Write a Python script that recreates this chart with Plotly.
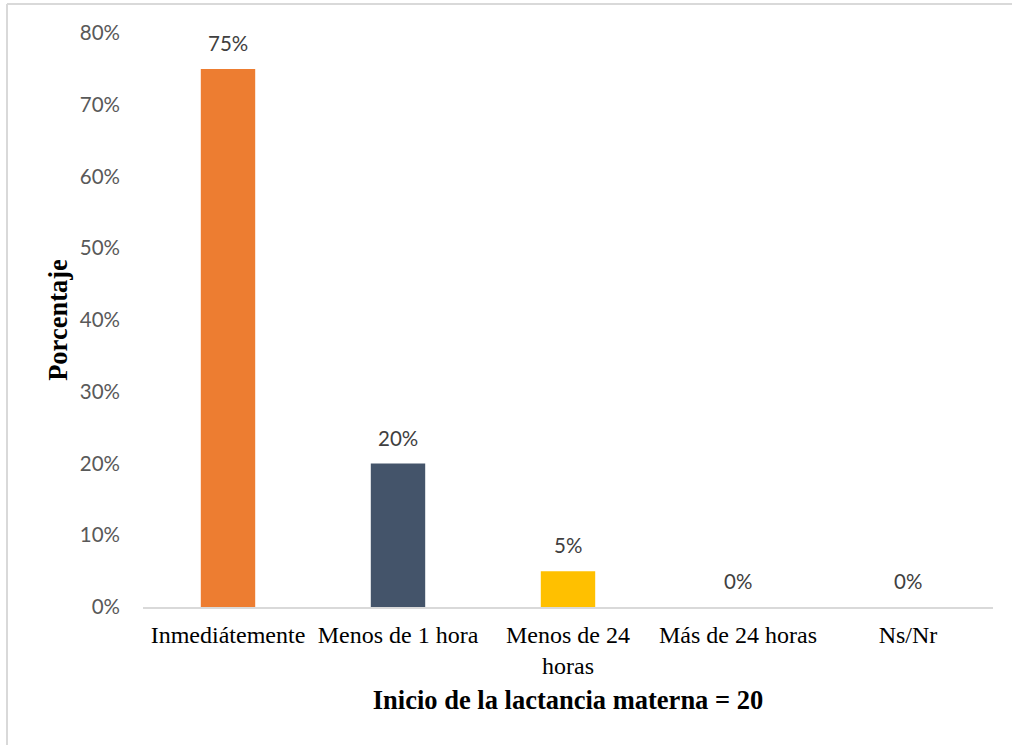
import plotly.graph_objects as go

categories = ["Inmediátemente", "Menos de 1 hora", "Menos de 24<br>horas", "Más de 24 horas", "Ns/Nr"]
percentages = [0.75, 0.20, 0.05, 0.0, 0.0]
bar_colors = ["#ED7D31", "#44546A", "#FFC000", "#A5A5A5", "#5B9BD5"]
y_ticks = [0, 0.1, 0.2, 0.3, 0.4, 0.5, 0.6, 0.7, 0.8]

W, H = 1012, 745
L, R, T, B = 143, 19, 33, 138
pw, ph = W - L - R, H - T - B

SANS = "Lato, Open Sans, sans-serif"
SERIF = "Liberation Serif, Times New Roman, serif"

def px_x(x):
    return (x - L) / pw

def px_y(y):
    return (H - B - y) / ph

fig = go.Figure(
    go.Bar(
        x=categories,
        y=percentages,
        marker=dict(color=bar_colors, line=dict(width=0)),
        width=0.32,
        cliponaxis=False,
    )
)

# value labels above each bar
annotations = [
    dict(x=c, y=v, xref="x", yref="y", text=f"{round(v * 100)}%",
         showarrow=False, yanchor="bottom", yshift=12,
         font=dict(family=SANS, size=20.5, color="#404040"))
    for c, v in zip(categories, percentages)
]

fig.update_layout(
    width=W,
    height=H,
    margin=dict(l=L, r=R, t=T, b=B),
    plot_bgcolor="white",
    paper_bgcolor="white",
    showlegend=False,
    annotations=annotations,
    xaxis=dict(
        showgrid=False,
        showline=True,
        linecolor="#D9D9D9",
        linewidth=1.5,
        tickfont=dict(family=SERIF, size=24, color="black"),
        ticklabelstandoff=5,
        title=dict(
            text="<b>Inicio de la lactancia materna = 20</b>",
            font=dict(family=SERIF, size=26.5, color="black"),
            standoff=13,
        ),
    ),
    yaxis=dict(
        range=[0, 0.8],
        tickvals=y_ticks,
        tickformat=".0%",
        showgrid=False,
        zeroline=False,
        showline=False,
        tickfont=dict(family=SANS, size=20.5, color="#595959"),
        ticklabelstandoff=22,
        title=dict(
            text="<b>Porcentaje</b>",
            font=dict(family=SERIF, size=26.5, color="black"),
            standoff=4,
        ),
    ),
    shapes=[
        dict(type="line", xref="paper", yref="paper",
             x0=px_x(7), x1=px_x(7), y0=px_y(4), y1=px_y(H),
             line=dict(color="#D9D9D9", width=2)),
        dict(type="line", xref="paper", yref="paper",
             x0=px_x(7), x1=px_x(W), y0=px_y(4), y1=px_y(4),
             line=dict(color="#D9D9D9", width=2)),
    ],
)

fig.write_html("out.html")
